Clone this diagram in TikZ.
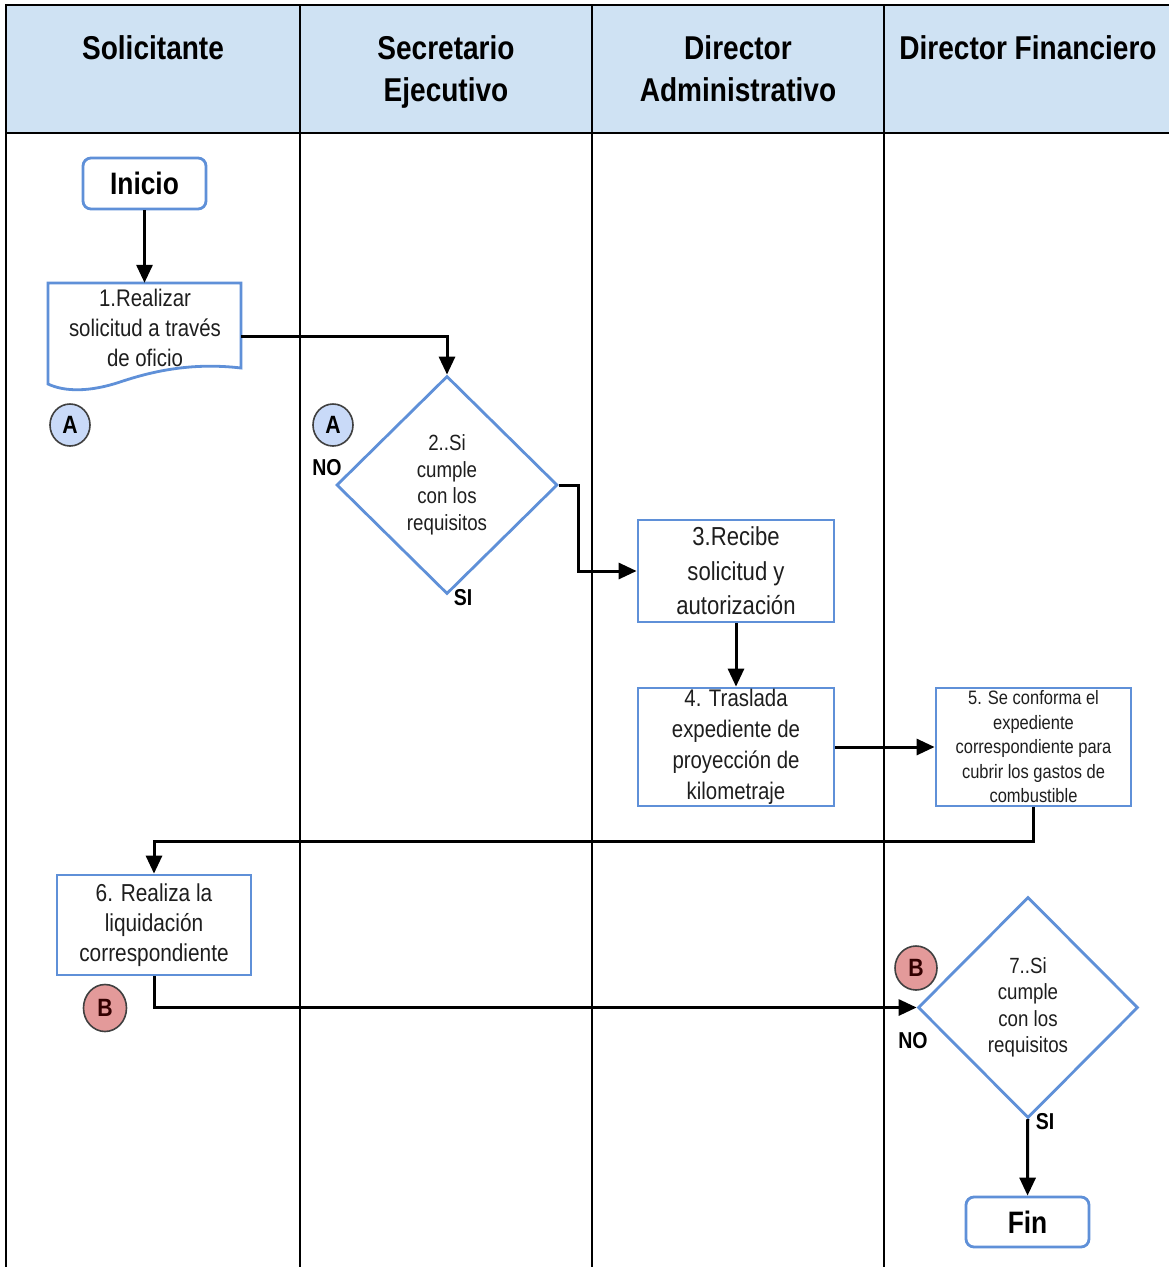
\documentclass[tikz,border=0pt]{standalone}
\usepackage{fontspec}
\setmainfont{Liberation Sans}[FakeStretch=0.85]
\usetikzlibrary{shapes.geometric,arrows.meta}
\definecolor{hdrfill}{HTML}{CFE2F3}
\definecolor{boxblue}{HTML}{5F90D8}
\definecolor{conA}{HTML}{C9DAF8}
\definecolor{conB}{HTML}{E39A9A}
\definecolor{txt}{HTML}{1E1E1E}
\begin{document}
\begin{tikzpicture}[x=1pt,y=-1pt,
  lane/.style={line width=2.8pt,black},
  hdr/.style={font=\bfseries\fontsize{33}{42}\selectfont,align=center,anchor=north,inner sep=0pt},
  boxline/.style={draw=boxblue,line width=2.8pt},
  procbox/.style={boxline,fill=white,align=center,inner sep=0pt,text=txt,
    font=\fontsize{24}{30.5}\selectfont},
  termbox/.style={boxline,fill=white,rounded corners=8pt,inner sep=0pt,
    minimum width=123pt,minimum height=51pt,font=\bfseries\fontsize{31}{36}\selectfont},
  decision/.style={diamond,boxline,fill=white,align=center,inner sep=0pt,text=txt,
    font=\fontsize{22}{26.5}\selectfont},
  conA/.style={ellipse,draw=black!75,line width=1.6pt,fill=conA,inner sep=0pt,
    minimum width=40pt,minimum height=42pt,font=\bfseries\fontsize{25}{26}\selectfont},
  conB/.style={ellipse,draw=black!75,line width=1.6pt,fill=conB,inner sep=0pt,
    minimum width=43pt,minimum height=47pt,font=\bfseries\fontsize{25}{26}\selectfont,
    text=black!80!red},
  branch/.style={font=\bfseries\fontsize{23}{24}\selectfont,inner sep=0pt},
  conn/.style={line width=3pt,black,-{Triangle[length=18pt,width=16pt]}}
]
\useasboundingbox (0,0) rectangle (1168,1267);
\fill[white] (0,0) rectangle (1168,1267);

% header band and swimlanes
\fill[hdrfill] (6,5) rectangle (1172,133);
\draw[lane] (1172,5) -- (6,5) -- (6,1272);
\draw[lane] (6,133) -- (1172,133);
\foreach \x in {300,592,884} \draw[lane] (\x,5) -- (\x,1272);

\node[hdr] (h1) at (153,35) {Solicitante};
\node[hdr] (h2) at (446,35) {Secretario\\Ejecutivo};
\node[hdr] (h3) at (738,35) {Director\\Administrativo};
\node[hdr] (h4) at (1028,35) {Director Financiero};

% start
\node[termbox] (ini) at (144.5,183.5) {Inicio};

% step 1: document shape
\node[minimum width=193pt,minimum height=107pt,inner sep=0pt] (b1) at (144.5,336.5) {};
\draw[boxline,fill=white] (48,283) -- (241,283) -- (241,368)
  .. controls (190,362) and (150,372) .. (120,382)
  .. controls (90,392) and (65,392) .. (48,384) -- cycle;
\node[align=center,inner sep=0pt,text=txt,font=\fontsize{24}{30}\selectfont]
  (t1) at (145,328) {1.Realizar\\solicitud a través\\de oficio};

% connectors A
\node[conA] (a1) at (70,425) {A};
\node[conA] (a2) at (333,425) {A};

% step 2: decision
\node[decision,minimum width=221pt,minimum height=218pt] (d2) at (447,485)
  {2..Si\\cumple\\con los\\requisitos};
\node[branch] (no2) at (327,468) {NO};
\node[branch] (si2) at (463,598) {SI};

% steps 3, 4, 5
\node[procbox,minimum width=196pt,minimum height=102pt,font=\fontsize{26}{34.5}\selectfont]
  (b3) at (736,571) {3.Recibe\\solicitud y\\autorización};
\node[procbox,minimum width=196pt,minimum height=118pt,font=\fontsize{24}{31}\selectfont]
  (b4) at (736,747) {4. Traslada\\expediente de\\proyección de\\kilometraje};
\node[procbox,minimum width=195pt,minimum height=118pt,font=\fontsize{19.4}{24.5}\selectfont]
  (b5) at (1033.5,747) {5. Se conforma el\\expediente\\correspondiente para\\cubrir los gastos de\\combustible};

% step 6
\node[procbox,minimum width=194pt,minimum height=100pt,font=\fontsize{24.5}{30}\selectfont]
  (b6) at (154,925) {6. Realiza la\\liquidación\\correspondiente};
\node[conB] (bb1) at (105,1008) {B};

% step 7: decision
\node[decision,minimum width=220pt,minimum height=221pt] (d7) at (1028,1007.5)
  {7..Si\\cumple\\con los\\requisitos};
\node[conB,minimum width=42pt,minimum height=44pt] (bb2) at (916,968) {B};
\node[branch] (no7) at (913,1041) {NO};
\node[branch] (si7) at (1045,1122) {SI};

% end
\node[termbox,minimum height=50pt] (fin) at (1027.5,1222) {Fin};

% flow
\draw[conn] (ini) -- (b1);
\draw[conn] (b1.east) -| (d2.north);
\draw[conn] (d2.east) -- ++(20,0) |- (b3.west);
\draw[conn] (b3) -- (b4);
\draw[conn] (b4) -- (b5);
\draw[conn] (b5.south) -- ++(0,34) -| (b6.north);
\draw[conn] (b6.south) |- (d7.west);
\draw[conn] (d7) -- (fin);
\end{tikzpicture}
\end{document}
